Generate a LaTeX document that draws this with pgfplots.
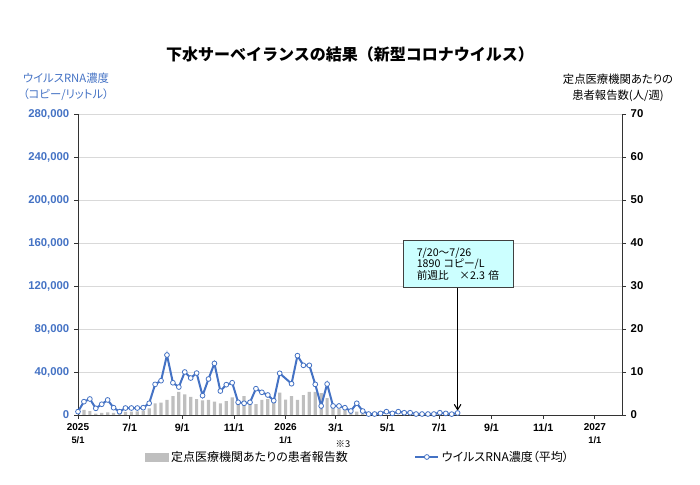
\documentclass[border=0pt]{standalone}
\usepackage{fontspec}
\setmainfont{Liberation Sans}
\newfontfamily\jp{Noto Sans CJK JP}[RawFeature=+palt]
\newfontfamily\jpw{Noto Sans CJK JP}
\usepackage{pgfplots}
\pgfplotsset{compat=1.18}
\usetikzlibrary{arrows.meta}
\definecolor{rnaBlue}{HTML}{4472C4}
\definecolor{barGray}{HTML}{BFBFBF}
\definecolor{boxCyan}{HTML}{CCFFFF}

% weekly values, x = days since 2025-05-01 (mid-week)
\pgfplotstableread{
x    rna
0    3100
7    12400
14   14900
21   6200
28   10000
35   14000
42   6800
49   3100
56   6500
63   6500
70   6500
77   6800
84   10900
91   28500
98   31900
105  55800
112  30000
119  26000
126  40000
133  34400
140  39000
147  18000
154  33500
161  48000
168  22300
175  28200
182  30000
189  11800
196  10900
203  11800
210  24500
217  21100
224  18600
231  13300
238  38800
252  29100
259  55200
266  46200
273  46200
280  28500
287  8400
294  28800
301  8400
308  8400
315  6800
322  3700
329  10900
336  3700
343  900
350  900
357  1500
364  3100
371  1500
378  3100
385  2100
392  2100
399  900
406  900
413  900
420  900
427  2100
434  1500
441  820
448  1890
}\rnatable

\pgfplotstableread{
x    pat
0    0.6
7    1.2
14   0.9
21   0.3
28   0.5
35   0.6
42   0.5
49   0.7
56   0.7
63   0.8
70   0.85
77   1.0
84   1.55
91   2.7
98   2.9
105  3.5
112  4.4
119  5.35
126  4.8
133  4.2
140  3.7
147  3.4
154  3.5
161  3.1
168  2.7
175  3.2
182  4.1
189  3.5
196  4.4
203  3.5
210  2.55
217  3.5
224  3.7
231  3.9
238  5.2
245  3.6
252  4.4
259  3.5
266  4.6
273  5.35
280  5.4
287  5.1
294  3.9
301  1.8
308  1.5
315  1.2
322  1.0
329  0.8
336  0.4
343  0.2
}\pattable

\begin{document}
\begin{tikzpicture}
\path[use as bounding box] (0,0) rectangle (525pt,363.75pt);

% patients per sentinel site (right axis)
\begin{axis}[
  at={(58.5pt,52.5pt)}, anchor=south west,
  width=408pt, height=225.75pt, scale only axis,
  xmin=0, xmax=642, ymin=0, ymax=70,
  axis x line*=bottom, axis y line*=right,
  axis line style={black!80, line width=0.6pt},
  xtick={0,61,123,184,245,304,365,426,488,549,610},
  xticklabels={
    {{\fontsize{7.5}{9.5}\selectfont 2025}\\{\fontsize{7}{8}\selectfont 5/1}},
    7/1, 9/1, 11/1,
    {{\fontsize{7.5}{9.5}\selectfont 2026}\\{\fontsize{7}{8}\selectfont 1/1}},
    3/1, 5/1, 7/1, 9/1, 11/1,
    {{\fontsize{7.5}{9.5}\selectfont 2027}\\{\fontsize{7}{8}\selectfont 1/1}}},
  xticklabel style={font=\fontsize{8}{9.5}\selectfont\bfseries, align=center},
  ytick={0,10,...,70},
  yticklabel style={font=\fontsize{8.5}{10}\selectfont\bfseries, text=black},
  tick align=outside, major tick length=3pt,
  tick style={black!80, line width=0.6pt},
  ymajorgrids, grid style={black!15, line width=0.6pt},
  /pgf/number format/assume math mode=true,
]
\addplot[ybar, bar width=2.4pt, fill=barGray, draw=none] table[x=x, y=pat] {\pattable};
\end{axis}

% RNA concentration (left axis)
\begin{axis}[
  at={(58.5pt,52.5pt)}, anchor=south west,
  width=408pt, height=225.75pt, scale only axis,
  xmin=0, xmax=642, ymin=0, ymax=280000,
  axis y line*=left, axis x line=none,
  axis line style={black!80, line width=0.6pt},
  ytick={0,40000,...,280000},
  scaled y ticks=false,
  yticklabel style={font=\fontsize{8.5}{10}\selectfont\bfseries, text=rnaBlue,
    /pgf/number format/fixed, /pgf/number format/precision=0,
    /pgf/number format/1000 sep={,}},
  tick align=outside, major tick length=3pt,
  tick style={black!80, line width=0.6pt},
  /pgf/number format/assume math mode=true,
  clip=false,
  legend columns=2,
  legend style={at={(0.123,-0.1395)}, anchor=west, draw=none, fill=none,
    inner sep=0pt, font=\jp\fontsize{9}{10}\selectfont,
    /tikz/every even column/.append style={column sep=48pt}},
]
\addlegendimage{area legend, fill=barGray, draw=barGray}
\addlegendentry{定点医療機関あたりの患者報告数}
\addplot[rnaBlue, line width=1.5pt, mark=*, mark size=1.8pt,
  mark options={fill=white, draw=rnaBlue, line width=0.6pt}]
  table[x=x, y=rna] {\rnatable};
\addlegendentry{ウイルスRNA濃度（平均）}

\node[draw=black!75, fill=boxCyan, line width=0.5pt, minimum width=82.5pt,
  minimum height=35.25pt, inner xsep=10pt, text width=62.5pt, align=left,
  font=\jp\fontsize{8}{8.6}\selectfont] at (axis cs:449,140300)
  {\mbox{7/20～7/26}\\\mbox{1890 コピー/L}\\\mbox{前週比　×2.3 倍}};
\draw[-{Straight Barb[length=4pt,width=5pt]}, line width=0.8pt, black]
  (axis cs:448,118100) -- (axis cs:448,4000);
\end{axis}

% titles and notes
\node[font=\jpw\fontsize{12}{14}\selectfont\bfseries] at (262.5pt,323.25pt)
  {下水サーベイランスの結果（新型コロナウイルス）};
\node[font=\jp\fontsize{8.5}{12}\selectfont, text=rnaBlue, align=center]
  at (49.5pt,298.5pt) {ウイルスRNA濃度\\（コピー/リットル）};
\node[font=\jp\fontsize{8.5}{12}\selectfont, align=center]
  at (463.5pt,297.75pt) {定点医療機関あたりの\\患者報告数(人/週)};
\node[font=\jp\fontsize{7}{8}\selectfont] at (257.25pt,31pt) {※3};
\end{tikzpicture}
\end{document}
